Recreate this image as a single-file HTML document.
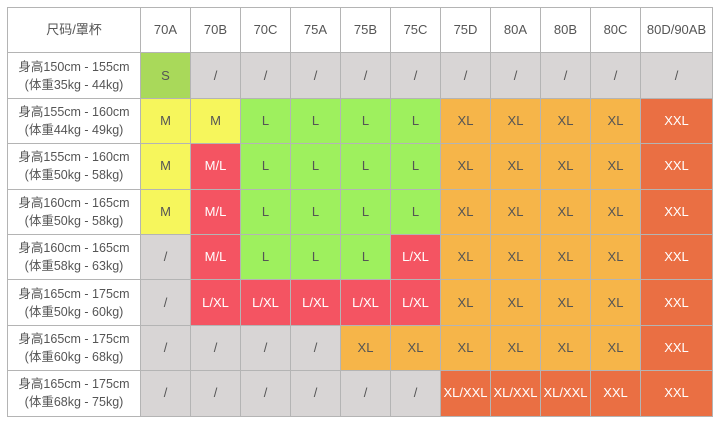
<!DOCTYPE html><html><head><meta charset="utf-8"><style>
body{margin:0;background:#fff;width:721px;height:423px;overflow:hidden}
table{position:absolute;left:7px;top:7px;border-collapse:collapse;font-family:"Liberation Sans","Noto Sans CJK SC",sans-serif;font-size:13px;color:#555;table-layout:fixed}
td{border:1px solid #b4b4b4;text-align:center;padding:0;height:44.4px;line-height:18px}
tr:first-child td{background:#fff}
td.h{background:#fff;font-size:12.5px}
.g{background:#d8d5d5}.s{background:#a9d95a}.y{background:#f6f65c}.r{background:#f45462;color:#fff}.l{background:#9ef05e}.o{background:#f6b549}.d{background:#ea6f43;color:#fff}
</style></head><body>
<table>
<colgroup><col style="width:133px"><col style="width:50px"><col style="width:50px"><col style="width:50px"><col style="width:50px"><col style="width:50px"><col style="width:50px"><col style="width:50px"><col style="width:50px"><col style="width:50px"><col style="width:50px"><col style="width:72px"></colgroup>
<tr><td>尺码/罩杯</td><td>70A</td><td>70B</td><td>70C</td><td>75A</td><td>75B</td><td>75C</td><td>75D</td><td>80A</td><td>80B</td><td>80C</td><td>80D/90AB</td></tr>
<tr><td class="h">身高150cm - 155cm<br>(体重35kg - 44kg)</td><td class="s">S</td><td class="g">/</td><td class="g">/</td><td class="g">/</td><td class="g">/</td><td class="g">/</td><td class="g">/</td><td class="g">/</td><td class="g">/</td><td class="g">/</td><td class="g">/</td></tr>
<tr><td class="h">身高155cm - 160cm<br>(体重44kg - 49kg)</td><td class="y">M</td><td class="y">M</td><td class="l">L</td><td class="l">L</td><td class="l">L</td><td class="l">L</td><td class="o">XL</td><td class="o">XL</td><td class="o">XL</td><td class="o">XL</td><td class="d">XXL</td></tr>
<tr><td class="h">身高155cm - 160cm<br>(体重50kg - 58kg)</td><td class="y">M</td><td class="r">M/L</td><td class="l">L</td><td class="l">L</td><td class="l">L</td><td class="l">L</td><td class="o">XL</td><td class="o">XL</td><td class="o">XL</td><td class="o">XL</td><td class="d">XXL</td></tr>
<tr><td class="h">身高160cm - 165cm<br>(体重50kg - 58kg)</td><td class="y">M</td><td class="r">M/L</td><td class="l">L</td><td class="l">L</td><td class="l">L</td><td class="l">L</td><td class="o">XL</td><td class="o">XL</td><td class="o">XL</td><td class="o">XL</td><td class="d">XXL</td></tr>
<tr><td class="h">身高160cm - 165cm<br>(体重58kg - 63kg)</td><td class="g">/</td><td class="r">M/L</td><td class="l">L</td><td class="l">L</td><td class="l">L</td><td class="r">L/XL</td><td class="o">XL</td><td class="o">XL</td><td class="o">XL</td><td class="o">XL</td><td class="d">XXL</td></tr>
<tr><td class="h">身高165cm - 175cm<br>(体重50kg - 60kg)</td><td class="g">/</td><td class="r">L/XL</td><td class="r">L/XL</td><td class="r">L/XL</td><td class="r">L/XL</td><td class="r">L/XL</td><td class="o">XL</td><td class="o">XL</td><td class="o">XL</td><td class="o">XL</td><td class="d">XXL</td></tr>
<tr><td class="h">身高165cm - 175cm<br>(体重60kg - 68kg)</td><td class="g">/</td><td class="g">/</td><td class="g">/</td><td class="g">/</td><td class="o">XL</td><td class="o">XL</td><td class="o">XL</td><td class="o">XL</td><td class="o">XL</td><td class="o">XL</td><td class="d">XXL</td></tr>
<tr><td class="h">身高165cm - 175cm<br>(体重68kg - 75kg)</td><td class="g">/</td><td class="g">/</td><td class="g">/</td><td class="g">/</td><td class="g">/</td><td class="g">/</td><td class="d">XL/XXL</td><td class="d">XL/XXL</td><td class="d">XL/XXL</td><td class="d">XXL</td><td class="d">XXL</td></tr>
</table></body></html>
